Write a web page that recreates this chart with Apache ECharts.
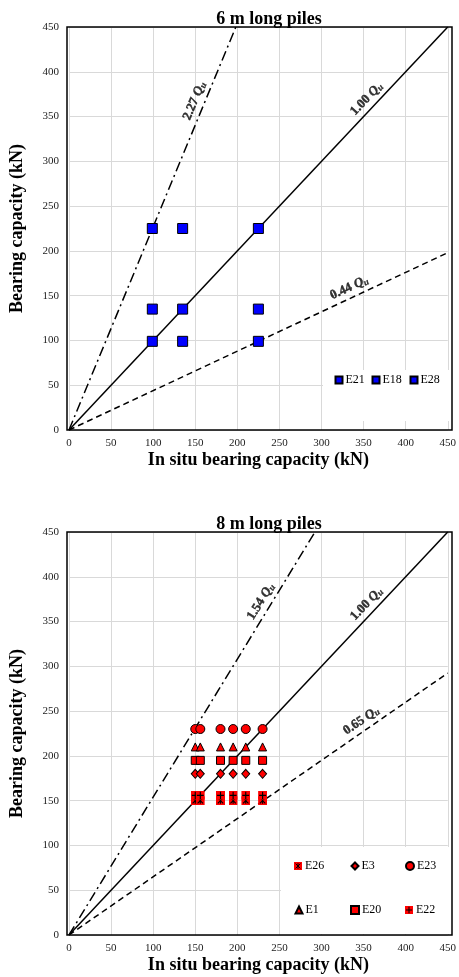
<!DOCTYPE html>
<html><head><meta charset="utf-8">
<script src="https://cdn.jsdelivr.net/npm/echarts@6/dist/echarts.min.js"></script>
<style>html,body{margin:0;padding:0;background:#fff}#c{width:459px;height:977px}</style>
</head><body><div id="c"></div>
<script>
// ---------- data ----------
const axisMin = 0, axisMax = 450, axisStep = 50;
const xTitle = 'In situ bearing capacity (kN)';
const yTitle = 'Bearing capacity (kN)';

// 6 m long piles
const sixTitle = '6 m long piles';
const sixInSitu = [99, 135, 225];
const sixE21 = [99, 99, 99];
const sixE18 = [135, 135, 135];
const sixE28 = [225, 225, 225];
const sixSlopes = [2.27, 1.00, 0.44];
const sixSlopeText = ['2.27', '1.00', '0.44'];
const sixLabelAtX = [160, 362, 338];

// 8 m long piles
const eightTitle = '8 m long piles';
const eightInSitu = [150, 156, 180, 195, 210, 230];
const eightE26 = [150, 150, 150, 150, 150, 150];
const eightE3  = [180, 180, 180, 180, 180, 180];
const eightE23 = [230, 230, 230, 230, 230, 230];
const eightE1  = [210, 210, 210, 210, 210, 210];
const eightE20 = [195, 195, 195, 195, 195, 195];
const eightE22 = [156, 156, 156, 156, 156, 156];
const eightSlopes = [1.54, 1.00, 0.65];
const eightSlopeText = ['1.54', '1.00', '0.65'];
const eightLabelAtX = [238, 362, 354];

// ---------- layout / style ----------
const FONT = 'Liberation Serif';
const grids = [
  {left: 67, top: 27, width: 385, height: 403},
  {left: 67, top: 532, width: 385, height: 403}
];
const lineTypes = [[10, 4, 2, 4], 'solid', [6, 4]];

function svgSym(inner) {
  const svg = '<svg xmlns="http://www.w3.org/2000/svg" width="40" height="40" viewBox="0 0 10 10"><rect width="10" height="10" fill="#ff0000"/>' + inner + '</svg>';
  return 'image://data:image/svg+xml;charset=utf-8,' + encodeURIComponent(svg);
}
const symE22 = svgSym('<path d="M5 1V9M1.2 5H8.8" stroke="#000" stroke-width="1.3"/>');
const symE26 = svgSym('<path d="M2 2L8 8M8 2L2 8M5 1.5V8.5" stroke="#000" stroke-width="1.2"/>');

function pts(xs, ys) { return xs.map((x, i) => [x, ys[i]]); }

const xAxes = [], yAxes = [], series = [], legends = [], graphics = [];

grids.forEach((g, i) => {
  xAxes.push({
    gridIndex: i, type: 'value', min: axisMin, max: axisMax, interval: axisStep,
    axisLine: {show: false}, axisTick: {show: false},
    axisLabel: {fontFamily: FONT, fontSize: 11, color: '#222', margin: 8},
    splitLine: {show: true, lineStyle: {color: '#d9d9d9', width: 1}},
    name: xTitle, nameLocation: 'middle', nameGap: 21,
    nameTextStyle: {fontFamily: FONT, fontSize: 18, fontWeight: 'bold', color: '#000'}
  });
  yAxes.push({
    gridIndex: i, type: 'value', min: axisMin, max: axisMax, interval: axisStep,
    axisLine: {show: false}, axisTick: {show: false},
    axisLabel: {fontFamily: FONT, fontSize: 11, color: '#222', margin: 10},
    splitLine: {show: true, lineStyle: {color: '#d9d9d9', width: 1}},
    name: yTitle, nameLocation: 'middle', nameGap: 43,
    nameTextStyle: {fontFamily: FONT, fontSize: 18, fontWeight: 'bold', color: '#000'}
  });
  graphics.push({
    type: 'rect', z: 20, silent: true,
    shape: {x: g.left, y: g.top, width: g.width, height: g.height},
    style: {fill: null, stroke: '#000', lineWidth: 1.5}
  });
});

function refLines(gi, slopes, texts, atX) {
  const g = grids[gi];
  slopes.forEach((k, j) => {
    const xe = Math.min(axisMax, axisMax / k);
    series.push({
      type: 'line', name: 'ref' + gi + '_' + j, xAxisIndex: gi, yAxisIndex: gi,
      data: [[0, 0], [xe, k * xe]], symbol: 'none', silent: true, z: 2,
      lineStyle: {color: '#000', width: 1.5, type: lineTypes[j]}, animation: false
    });
    const ang = Math.atan(k * (g.height / (axisMax - axisMin)) / (g.width / (axisMax - axisMin))) * 180 / Math.PI;
    series.push({
      type: 'scatter', name: 'lbl' + gi + '_' + j, xAxisIndex: gi, yAxisIndex: gi,
      data: [[atX[j], k * atX[j]]], symbolSize: 1, itemStyle: {color: 'rgba(0,0,0,0)'}, silent: true, z: 4,
      label: {
        show: true, position: 'inside', rotate: ang, offset: [0, -10],
        color: '#000', fontWeight: 'bold', fontFamily: FONT, fontSize: 13,
        textBorderWidth: 0.4, textBorderColor: '#000',
        formatter: '{a|' + texts[j] + ' }{q|Q}{s|u}',
        rich: {
          a: {fontFamily: FONT, fontSize: 13, fontWeight: 'bold', color: '#000', textBorderWidth: 0.4, textBorderColor: '#000'},
          q: {fontFamily: FONT, fontSize: 13, fontWeight: 'bold', fontStyle: 'italic', color: '#000', textBorderWidth: 0.4, textBorderColor: '#000'},
          s: {fontFamily: FONT, fontSize: 9, fontWeight: 'bold', fontStyle: 'italic', color: '#000', verticalAlign: 'bottom', padding: [5, 0, 0, 0], textBorderWidth: 0.3, textBorderColor: '#000'}
        }
      },
      animation: false
    });
  });
}
refLines(0, sixSlopes, sixSlopeText, sixLabelAtX);
refLines(1, eightSlopes, eightSlopeText, eightLabelAtX);

function scat(gi, name, xs, ys, symbol, size, color, border) {
  series.push({
    type: 'scatter', name: name, xAxisIndex: gi, yAxisIndex: gi,
    data: pts(xs, ys), symbol: symbol, symbolSize: size, z: 3,
    itemStyle: {color: color, borderColor: border ? '#000' : null, borderWidth: border ? 1 : 0, opacity: 1},
    animation: false
  });
}
scat(0, 'E21', sixInSitu, sixE21, 'rect', 10, '#0000ff', true);
scat(0, 'E18', sixInSitu, sixE18, 'rect', 10, '#0000ff', true);
scat(0, 'E28', sixInSitu, sixE28, 'rect', 10, '#0000ff', true);

scat(1, 'E26', eightInSitu, eightE26, symE26, 9, '#ff0000', false);
scat(1, 'E22', eightInSitu, eightE22, symE22, 9, '#ff0000', false);
scat(1, 'E3', eightInSitu, eightE3, 'diamond', [8, 9], '#ff0000', true);
scat(1, 'E20', eightInSitu, eightE20, 'rect', 8, '#ff0000', true);
scat(1, 'E1', eightInSitu, eightE1, 'triangle', 8, '#ff0000', true);
scat(1, 'E23', eightInSitu, eightE23, 'circle', 9, '#ff0000', true);

// legend backgrounds
graphics.push({type: 'rect', z: 1, silent: true, shape: {x: 323, y: 370, width: 128, height: 51}, style: {fill: '#fff'}});
graphics.push({type: 'rect', z: 1, silent: true, shape: {x: 281, y: 847, width: 170, height: 87}, style: {fill: '#fff'}});

function leg(name, cx, cy, size) {
  legends.push({
    data: [name], left: cx - size / 2, top: cy - 7, itemWidth: size, itemHeight: size,
    padding: 0, itemGap: 0, selectedMode: false, z: 6,
    textStyle: {fontFamily: FONT, fontSize: 12, color: '#000', padding: [0, 0, 0, -2]}
  });
}
leg('E21', 338, 381, 7);
leg('E18', 375, 381, 7);
leg('E28', 413, 381, 7);
leg('E26', 298, 867, 8);
leg('E3', 354, 867, 7);
leg('E23', 409, 867, 8);
leg('E1', 298, 911, 7);
leg('E20', 354, 911, 8);
leg('E22', 409, 911, 8);

const option = {
  backgroundColor: '#fff',
  animation: false,
  title: [
    {text: sixTitle, left: 264, top: 5, textAlign: 'center', textStyle: {fontFamily: FONT, fontSize: 18, fontWeight: 'bold', color: '#000'}},
    {text: eightTitle, left: 264, top: 510, textAlign: 'center', textStyle: {fontFamily: FONT, fontSize: 18, fontWeight: 'bold', color: '#000'}}
  ],
  grid: grids.map(g => Object.assign({containLabel: false}, g)),
  xAxis: xAxes,
  yAxis: yAxes,
  legend: legends,
  graphic: {elements: graphics},
  series: series
};
const chart = echarts.init(document.getElementById('c'), null, {renderer: 'canvas'});
chart.setOption(option);
</script>
</body></html>
